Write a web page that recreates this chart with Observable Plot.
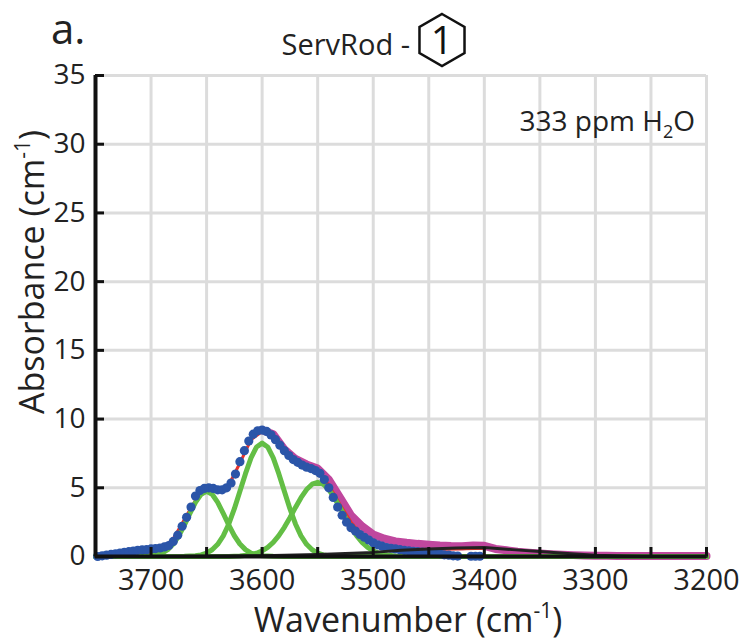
<!DOCTYPE html>
<html><head><meta charset="utf-8">
<script src="https://cdn.jsdelivr.net/npm/d3@7"></script>
<script src="https://cdn.jsdelivr.net/npm/@observablehq/plot@0.6"></script>
<style>body{margin:0;background:#fff}</style>
</head><body><div id="chart"></div>
<script>
const FONT = "'Open Sans',sans-serif";
// Measured spectrum (blue dots)
const blueW = [3748,3744,3740,3736,3732,3728,3724,3720,3716,3712,3708,3704,3700,3696,3692,3688,3684,3680,3676,3672,3668,3664,3660,3656,3652,3648,3644,3640,3636,3632,3628,3624,3620,3616,3612,3608,3604,3600,3596,3592,3588,3584,3580,3576,3572,3568,3564,3560,3556,3552,3548,3544,3540,3536,3532,3528,3524,3520,3516,3512,3508,3504,3500,3496,3492,3488,3484,3480,3476,3472,3468,3464,3460,3456,3452,3448,3444,3440,3436,3432,3428,3424,3412,3408,3404];
const blueA = [0.0,0.05,0.1,0.15,0.2,0.25,0.3,0.35,0.4,0.45,0.48,0.5,0.55,0.58,0.62,0.7,0.8,1.1,1.55,2.2,2.85,3.6,4.4,4.8,4.95,5.0,4.95,4.85,4.85,5.0,5.35,6.0,6.9,7.7,8.4,8.9,9.15,9.2,9.1,8.85,8.5,8.1,7.7,7.35,7.05,6.85,6.65,6.5,6.4,6.25,6.05,5.6,5.0,4.3,3.6,3.0,2.5,2.1,1.85,1.6,1.4,1.2,1.0,0.85,0.75,0.65,0.6,0.55,0.5,0.45,0.42,0.38,0.35,0.32,0.3,0.28,0.25,0.2,0.12,0.1,0.05,0.03,0.02,0.02,0.02];
// Full spectrum (magenta band)
const magW = [3600,3590,3580,3570,3560,3550,3540,3530,3520,3510,3500,3490,3480,3470,3460,3450,3440,3430,3420,3410,3400,3390,3380,3370,3360,3350,3340,3330,3320,3310,3300,3290,3280,3270,3260,3250,3240,3230,3220,3210,3200];
const magA = [9.2,8.9,7.8,7.1,6.7,6.4,5.6,4.3,3.0,2.2,1.6,1.3,1.1,1.0,0.92,0.86,0.8,0.76,0.75,0.8,0.78,0.55,0.45,0.35,0.28,0.22,0.17,0.13,0.1,0.08,0.06,0.05,0.04,0.03,0.03,0.03,0.03,0.03,0.03,0.03,0.03];
// Fit envelope (red)
const fitW = [3750,3720,3700,3690,3680,3670,3660,3650,3640,3630,3620,3610,3600,3590,3580,3570,3560,3550,3540,3530,3520,3510,3500,3480,3450,3400];
const fitA = [0,0.05,0.2,0.5,1.3,2.7,4.1,4.8,4.75,5.2,6.8,8.5,9.1,8.7,7.8,7.0,6.6,6.2,5.2,3.8,2.5,1.6,1.0,0.6,0.5,0.6];
// Gaussian components (green)
const g1W = [3750,3720,3710,3700,3695,3690,3685,3680,3675,3670,3665,3660,3655,3650,3645,3640,3635,3630,3625,3620,3615,3610,3605,3600,3590,3580,3200];
const g1A = [0,0,0.01,0.05,0.11,0.25,0.5,0.91,1.51,2.28,3.13,3.94,4.53,4.75,4.53,3.94,3.13,2.28,1.51,0.91,0.5,0.25,0.11,0.05,0.01,0,0];
const g2W = [3750,3670,3660,3655,3650,3645,3640,3635,3630,3625,3620,3615,3610,3605,3600,3595,3590,3585,3580,3575,3570,3565,3560,3555,3550,3545,3540,3530,3200];
const g2A = [0,0.01,0.05,0.12,0.25,0.49,0.89,1.5,2.37,3.48,4.75,6.03,7.18,7.97,8.25,7.97,7.18,6.03,4.75,3.48,2.37,1.5,0.89,0.49,0.25,0.12,0.05,0.01,0];
const g3W = [3750,3630,3620,3610,3605,3600,3595,3590,3585,3580,3575,3570,3565,3560,3555,3550,3545,3540,3535,3530,3525,3520,3515,3510,3505,3500,3495,3490,3480,3470,3200];
const g3A = [0,0,0.03,0.13,0.24,0.41,0.67,1.03,1.52,2.12,2.82,3.57,4.28,4.87,5.26,5.4,5.26,4.87,4.28,3.57,2.82,2.12,1.52,1.03,0.67,0.41,0.24,0.13,0.03,0,0];
// Baseline (black)
const baseW = [3750,3700,3650,3600,3550,3500,3475,3450,3425,3400,3375,3350,3325,3300,3275,3250,3200];
const baseA = [0,0,0.02,0.05,0.15,0.3,0.45,0.55,0.62,0.65,0.5,0.36,0.22,0.1,0.03,0,0];
// Ticks
const xGrid = [3700,3650,3600,3550,3500,3450,3400,3350,3300,3250,3200];
const xLabels = [3700,3600,3500,3400,3300,3200];
const yTicks = [0,5,10,15,20,25,30,35];

const pts = (w, a) => w.map((x, i) => ({x, y: a[i]}));

const svg = Plot.plot({
  width: 741, height: 644,
  marginLeft: 95, marginRight: 35, marginTop: 75, marginBottom: 88,
  style: {fontFamily: FONT, background: "#fff", overflow: "visible"},
  x: {domain: [3750, 3200], label: null},
  y: {domain: [0, 35], label: null},
  marks: [
    Plot.gridX(xGrid, {stroke: "#dcdcdc", strokeOpacity: 1, strokeWidth: 3}),
    Plot.gridY(yTicks.slice(1), {stroke: "#dcdcdc", strokeOpacity: 1, strokeWidth: 3}),
    Plot.line(pts(magW, magA), {x: "x", y: "y", stroke: "#c0479e", strokeWidth: 8, strokeLinecap: "round"}),
    Plot.line(pts(fitW, fitA), {x: "x", y: "y", stroke: "#e8312a", strokeWidth: 3}),
    Plot.line(pts(g1W, g1A), {x: "x", y: "y", stroke: "#63be45", strokeWidth: 5}),
    Plot.line(pts(g2W, g2A), {x: "x", y: "y", stroke: "#63be45", strokeWidth: 5}),
    Plot.line(pts(g3W, g3A), {x: "x", y: "y", stroke: "#63be45", strokeWidth: 5}),
    Plot.dot(pts(blueW, blueA), {x: "x", y: "y", r: 4.6, fill: "#2b55a8", stroke: "none"}),
    Plot.line(pts(baseW, baseA), {x: "x", y: "y", stroke: "#222", strokeWidth: 3}),
    Plot.axisX(xGrid, {tickSize: -9, strokeWidth: 3, stroke: "#111", text: null}),
    Plot.axisX(xLabels, {tickSize: 0, tickPadding: 13, fontSize: 29, fill: "#222", tickFormat: "d"}),
    Plot.axisY(yTicks, {tickSize: -9, strokeWidth: 3, stroke: "#111", text: null}),
    Plot.axisY(yTicks, {tickSize: 0, tickPadding: 10, fontSize: 28, fill: "#222", tickFormat: "d"}),
    Plot.ruleX([3750], {stroke: "#111", strokeWidth: 4}),
    Plot.ruleY([0], {stroke: "#111", strokeWidth: 4})
  ]
});

const s = d3.select(svg);
const txt = (x, y, str, size, anchor) => s.append("text").attr("x", x).attr("y", y)
  .attr("font-family", FONT).attr("font-size", size).attr("fill", "#222")
  .attr("text-anchor", anchor || "middle").text(str);
txt(51, 44, "a.", 42, "start");
txt(410, 55, "ServRod -", 29, "end");
const hx = 442, hy = 40, R = 26, h = R * Math.sqrt(3) / 2;
s.append("path").attr("d", `M${hx},${hy-R}L${hx+h},${hy-R/2}L${hx+h},${hy+R/2}L${hx},${hy+R}L${hx-h},${hy+R/2}L${hx-h},${hy-R/2}Z`)
  .attr("fill", "none").attr("stroke", "#111").attr("stroke-width", 2.5);
txt(hx, hy + 14, "1", 39).attr("fill", "#111");
// annotation
const ann = txt(695, 131, "333 ppm H", 28, "end");
ann.append("tspan").attr("font-size", 18).attr("dy", 7).text("2");
ann.append("tspan").attr("dy", -7).text("O");
// axis titles
const xl = txt(408, 632, "Wavenumber (cm", 34);
xl.append("tspan").attr("font-size", 21).attr("dy", -14).text("-1");
xl.append("tspan").attr("dy", 14).text(")");
const yl = txt(0, 0, "Absorbance (cm", 34).attr("transform", "translate(44,272) rotate(-90)");
yl.append("tspan").attr("font-size", 21).attr("dy", -14).text("-1");
yl.append("tspan").attr("dy", 14).text(")");

document.getElementById("chart").append(svg);
</script>
</body></html>
